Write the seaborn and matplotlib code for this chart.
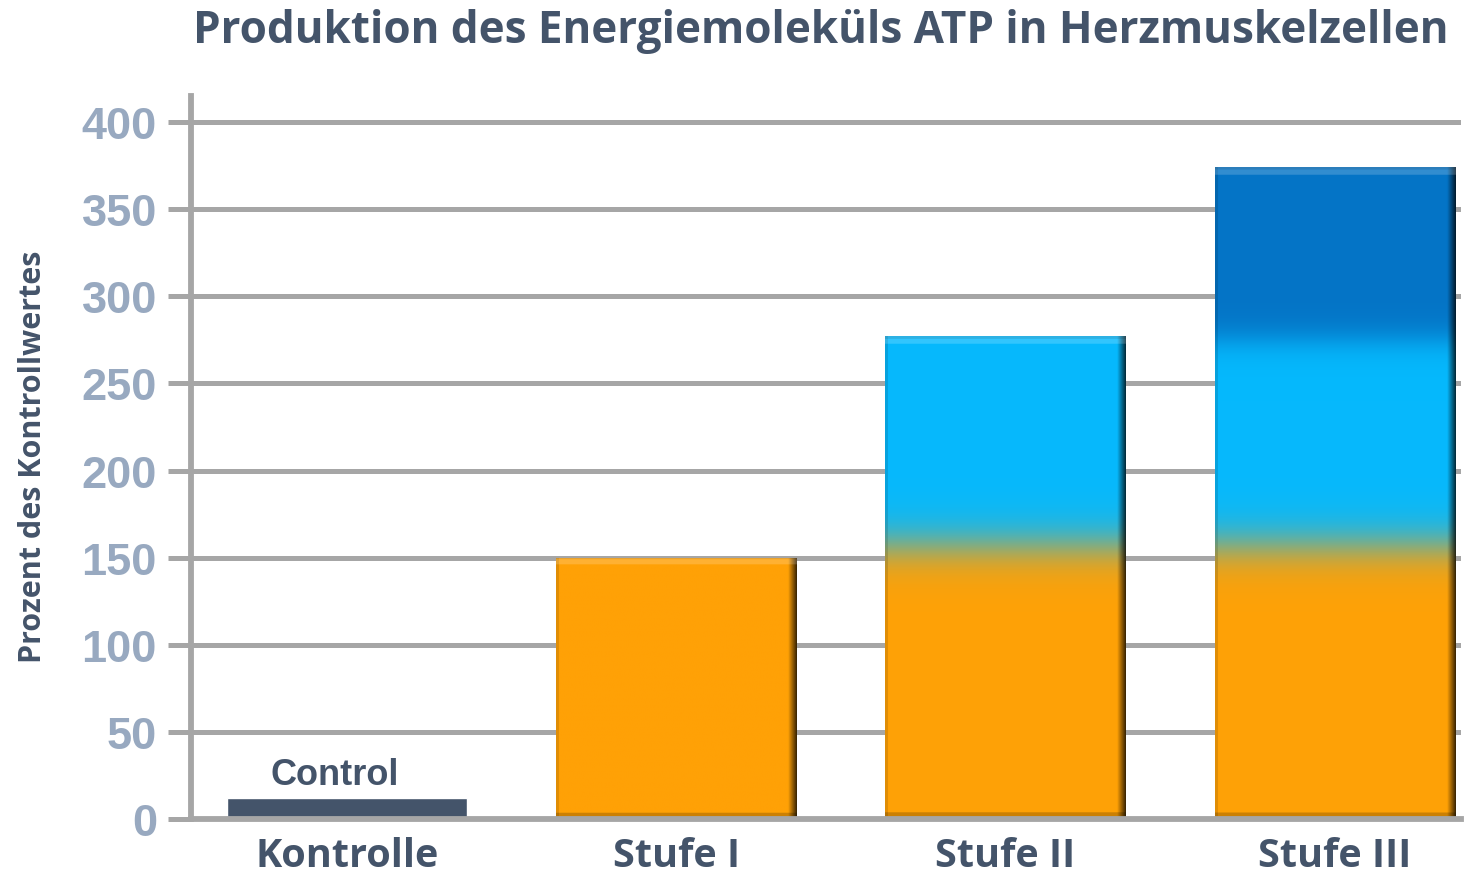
import numpy as np
import pandas as pd
import seaborn as sns
import matplotlib.pyplot as plt
from matplotlib.colors import to_rgb

# Daten
stufen = ["Kontrolle", "Stufe I", "Stufe II", "Stufe III"]
kontroll_wert = 12
orange_anteil = [0, 150, 150, 150]
hellblau_anteil = [0, 0, 127, 120]
dunkelblau_anteil = [0, 0, 0, 104]
y_ticks = [0, 50, 100, 150, 200, 250, 300, 350, 400]

gesamt = np.array(orange_anteil) + np.array(hellblau_anteil) + np.array(dunkelblau_anteil)
gesamt[0] = kontroll_wert
df = pd.DataFrame({"stufe": stufen, "wert": gesamt})

sns.set_style("white")
plt.rcParams['font.family'] = ['Open Sans', 'DejaVu Sans']

c_orange = np.array(to_rgb("#ffa106"))
c_hell = np.array(to_rgb("#06b9fd"))
c_dunkel = np.array(to_rgb("#0474c6"))
c_text = "#44546a"
c_grid = "#a6a6a6"

fig = plt.figure(figsize=(14.76, 8.78), dpi=100)
ax = fig.add_axes([191 / 1476, 1 - 820 / 878, (1461 - 191) / 1476, (820 - 97) / 878])

sns.barplot(data=df, x="stufe", y="wert", width=0.73, color=c_text, ax=ax, saturation=1)

ax.set_xlim(-0.474, 3.383)
ax.set_ylim(0, 415)
ax.set_yticks(y_ticks)

# Verlauf + Abschrägung in den Balken
def schritt(y, mitte, breite=7.0):
    return 1 / (1 + np.exp(-(y - mitte) / breite))

for i, p in enumerate(ax.patches):
    if i == 0:
        continue
    x0, w, h = p.get_x(), p.get_width(), p.get_height()
    ys = np.linspace(0, h, 500)
    farbe = np.tile(c_orange, (len(ys), 1))
    if hellblau_anteil[i] > 0:
        t = schritt(ys, orange_anteil[i] + 7)[:, None]
        farbe = farbe * (1 - t) + c_hell * t
    if dunkelblau_anteil[i] > 0:
        t = schritt(ys, orange_anteil[i] + hellblau_anteil[i] + 5, 5)[:, None]
        farbe = farbe * (1 - t) + c_dunkel * t
    nx = 240
    img = np.repeat(farbe[:, None, :], nx, axis=1)
    xs = np.linspace(0, 1, nx)
    fx = np.ones(nx)
    rechts = xs > 0.965
    fx[rechts] = 1 - 0.75 * (xs[rechts] - 0.965) / 0.035
    fx[xs < 0.012] = 0.88
    img = img * fx[None, :, None]
    oben = ys > h - 7 / 1.742
    img[oben] = img[oben] * 0.82 + 0.18
    img[ys > h - 2 / 1.742] *= 0.9
    unten = ys < 6 / 1.742
    img[unten] = img[unten] * 0.8
    im = ax.imshow(img, extent=(x0, x0 + w, 0, h), origin='lower', aspect='auto',
                   zorder=p.get_zorder() + 0.1, interpolation='bilinear')
    im.set_clip_path(p)
    p.set_facecolor("none")
    p.set_edgecolor("none")

ax.set_aspect('auto')
ax.set_xlim(-0.474, 3.383)
ax.set_ylim(0, 415)

ax.annotate("Control", xy=(0, kontroll_wert), xytext=(-9, 10), textcoords='offset points',
            ha='center', va='baseline', fontsize=26, fontweight='bold', color=c_text,
            family=['Liberation Sans', 'DejaVu Sans'])

ax.set_axisbelow(True)
ax.yaxis.grid(True, color=c_grid, linewidth=3.6)
ax.xaxis.grid(False)
sns.despine(ax=ax, top=True, right=True)
for s in ["left", "bottom"]:
    ax.spines[s].set_color(c_grid)
    ax.spines[s].set_linewidth(4.2)
ax.spines["left"].set_zorder(0.5)
ax.spines["bottom"].set_zorder(5)

ax.tick_params(axis='y', length=16.5, width=3.6, color=c_grid, pad=8, labelsize=32.5,
               labelcolor="#98a9c0", direction='out', left=True)
ax.tick_params(axis='x', length=0, pad=12, labelsize=28.5, labelcolor=c_text)
for lab in ax.get_yticklabels():
    lab.set_fontweight('bold')
    lab.set_family(['Liberation Sans', 'DejaVu Sans'])
for lab in ax.get_xticklabels():
    lab.set_fontweight('bold')

ax.set_xlabel("")
ax.set_ylabel("")
fig.text(33 / 1476, 1 - 457 / 878, "Prozent des Kontrollwertes", rotation=90, ha='center',
         va='center', fontsize=22, fontweight='bold', color=c_text)
fig.text(821 / 1476, 1 - 32 / 878, "Produktion des Energiemoleküls ATP in Herzmuskelzellen",
         ha='center', va='center', fontsize=31.7, fontweight='bold', color=c_text)

fig.savefig("out.png", dpi=100)
